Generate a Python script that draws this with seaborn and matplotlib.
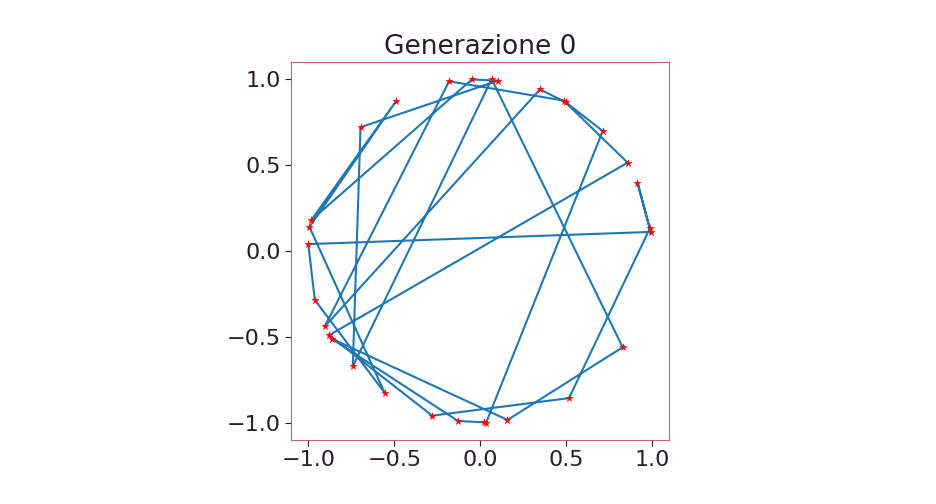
import numpy as np
import pandas as pd
import seaborn as sns
import matplotlib
matplotlib.use('Agg')
from matplotlib import pyplot as plt

sns.set_style("ticks")
plt.rcParams['font.family'] = ['DejaVu Sans']

# cities in the order the tour visits them (generation 0)
tour_x = [-1.000, 0.992, 0.915, 0.987, 0.517, -0.279, -0.879, 0.858, 0.486, -0.181,
          -0.904, 0.348, 0.497, 0.713, 0.035, 0.025, -0.129, -0.864, 0.159, 0.829,
          0.067, -0.741, -0.696, 0.104, -0.048, -0.983, -0.490, -0.993, -0.556, -0.962]
tour_y = [0.040, 0.111, 0.398, 0.131, -0.856, -0.958, -0.490, 0.514, 0.875, 0.987,
          -0.439, 0.940, 0.866, 0.698, -0.998, -0.997, -0.989, -0.510, -0.983, -0.560,
          1.000, -0.671, 0.720, 0.991, 0.998, 0.179, 0.871, 0.140, -0.825, -0.285]
generation = 0

text_col = '#2d1b2e'
frame_col = '#c0607a'

df = pd.DataFrame({'x': tour_x, 'y': tour_y})
closed = pd.concat([df, df.iloc[[0]]], ignore_index=True)

fig = plt.figure(figsize=(9.36, 5.04), dpi=100)
ax = fig.add_axes([0.311, 0.125, 0.404, 0.754])

sns.lineplot(data=closed, x='x', y='y', sort=False, estimator=None,
             color='#1f77b4', linewidth=1.5, ax=ax)
sns.scatterplot(data=df, x='x', y='y', marker='*', color='red', s=40,
                linewidth=0, ax=ax, zorder=3)

ax.set_xlim(-1.1, 1.1)
ax.set_ylim(-1.1, 1.1)
ax.set_aspect('equal')
ax.set_xticks([-1.0, -0.5, 0.0, 0.5, 1.0])
ax.set_yticks([-1.0, -0.5, 0.0, 0.5, 1.0])
ax.set_xlabel('')
ax.set_ylabel('')
ax.tick_params(labelsize=16, colors=text_col, length=4)
for sp in ax.spines.values():
    sp.set_color(frame_col)
    sp.set_linewidth(0.8)
ax.set_title(f'Generazione {generation}', fontsize=19, color=text_col)

fig.savefig('out.png', dpi=100)
